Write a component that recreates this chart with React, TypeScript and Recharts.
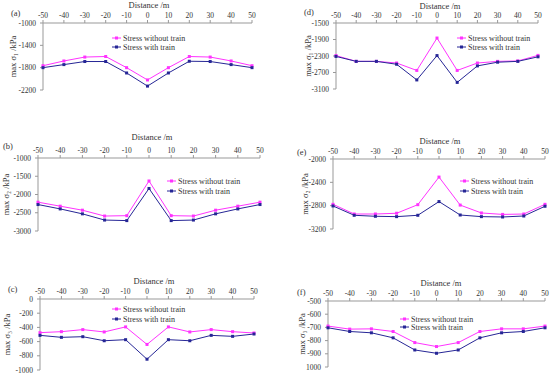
import { LineChart, Line, XAxis, YAxis, Label } from 'recharts';

// distance along the tunnel (m)
const distance = [-50, -40, -30, -20, -10, 0, 10, 20, 30, 40, 50];

// (a) max sigma1
const aWithout = [-1765, -1680, -1610, -1600, -1800, -2020, -1800, -1600, -1610, -1680, -1765];
const aWith = [-1800, -1745, -1690, -1690, -1895, -2130, -1895, -1685, -1690, -1745, -1800];
const aTicks = [-2200, -1800, -1400, -1000];

// (b) max sigma2
const bWithout = [-2210, -2320, -2430, -2590, -2580, -1630, -2580, -2590, -2430, -2320, -2210];
const bWith = [-2275, -2395, -2530, -2700, -2715, -1835, -2715, -2700, -2530, -2395, -2275];
const bTicks = [-3000, -2500, -2000, -1500, -1000];

// (c) max sigma3
const cWithout = [-474, -460, -431, -464, -393, -640, -393, -464, -431, -460, -479];
const cWith = [-512, -540, -531, -588, -573, -848, -573, -588, -512, -526, -493];
const cTicks = [-1000, -800, -600, -400, -200, 0];

// (d) max sigma1
const dWithout = [-2290, -2430, -2430, -2470, -2650, -1865, -2650, -2470, -2430, -2420, -2285];
const dWith = [-2310, -2430, -2430, -2500, -2880, -2290, -2940, -2540, -2450, -2430, -2320];
const dTicks = [-3100, -2700, -2300, -1900, -1500];

// (e) max sigma2
const eWithout = [-2777, -2943, -2943, -2930, -2783, -2310, -2790, -2925, -2950, -2943, -2777];
const eWith = [-2805, -2965, -2982, -2988, -2965, -2730, -2960, -2988, -2994, -2977, -2810];
const eTicks = [-3200, -2800, -2400, -2000];

// (f) max sigma3
const fWithout = [-690, -713, -711, -731, -815, -845, -815, -731, -711, -711, -690];
const fWith = [-703, -731, -741, -779, -871, -896, -871, -779, -741, -731, -703];
const fTicks = [-1000, -900, -800, -700, -600, -500];

const PINK = '#ff33ff';
const NAVY = '#262696';
const FONT = "'Liberation Serif', serif";
const TXT = '#333';

const panels = [
  { id: '(a)', without: aWithout, withT: aWith, ticks: aTicks, yLabel: 'max σ₁ /kPa', x0: 43, x1: 252, y0: 23, y1: 90, lab: [11, 13], dist: [149, 5], leg: [112, 38], gap: 9, yl: 13 },
  { id: '(d)', without: dWithout, withT: dWith, ticks: dTicks, yLabel: 'max σ₁ /kPa', x0: 336, x1: 538, y0: 23, y1: 89, lab: [304, 12], dist: [440, 6], leg: [457, 38], gap: 9, yl: 308 },
  { id: '(b)', without: bWithout, withT: bWith, ticks: bTicks, yLabel: 'max σ₂ /kPa', x0: 38, x1: 260, y0: 158, y1: 231, lab: [3, 146], dist: [152, 137], leg: [167, 181], gap: 10, yl: 6 },
  { id: '(e)', without: eWithout, withT: eWith, ticks: eTicks, yLabel: 'max σ₂ /kPa', x0: 333, x1: 545, y0: 159, y1: 229, lab: [297, 152], dist: [440, 141], leg: [460, 181], gap: 10, yl: 305 },
  { id: '(c)', without: cWithout, withT: cWith, ticks: cTicks, yLabel: 'max σ₃ /kPa', x0: 40, x1: 254, y0: 299, y1: 370, lab: [8, 289], dist: [154, 281], leg: [112, 309], gap: 10, yl: 7 },
  { id: '(f)', without: fWithout, withT: fWith, ticks: fTicks, yLabel: 'max σ₃ /kPa', x0: 328, x1: 545, y0: 301, y1: 367, lab: [297, 292], dist: [441, 283], leg: [400, 319], gap: 8, yl: 302 },
];

const SquareDot = (color: string) => (props: any) => {
  const { cx, cy, index } = props;
  if (cx == null || cy == null) return <g key={index} />;
  return <rect key={index} x={cx - 1.5} y={cy - 1.5} width={3} height={3} fill={color} />;
};

function LegendRow({ x, y, color, text }: { x: number; y: number; color: string; text: string }) {
  return (
    <div style={{ position: 'absolute', left: x, top: y - 6, height: 12, display: 'flex', alignItems: 'center' }}>
      <svg width={10} height={12} style={{ display: 'block' }}>
        <line x1={0} y1={6} x2={9} y2={6} stroke={color} strokeWidth={1} />
        <rect x={3} y={4.5} width={3} height={3} fill={color} />
      </svg>
      <span style={{ fontSize: 8, color: TXT, marginLeft: 1, whiteSpace: 'nowrap', fontFamily: FONT }}>{text}</span>
    </div>
  );
}

function Panel({ p }: { p: any }) {
  const data = distance.map((d, i) => ({ d, without: p.without[i], withT: p.withT[i] }));
  const axisW = 40;
  const axisH = 24;
  const left = p.x0 - axisW;
  const top = p.y0 - axisH;
  const w = p.x1 - p.x0 + axisW + 6;
  const h = p.y1 - p.y0 + axisH + 6;
  const lo = p.ticks[0];
  const hi = p.ticks[p.ticks.length - 1];
  const fmtY = (v: number) => (p.id === '(f)' && v === -1000 ? '1000' : String(v));
  return (
    <>
      <div style={{ position: 'absolute', left, top }}>
        <LineChart width={w} height={h} data={data} margin={{ top: 0, right: 6, bottom: 6, left: 0 }}>
          <XAxis
            dataKey="d"
            type="number"
            orientation="top"
            domain={[-50, 50]}
            ticks={distance}
            interval={0}
            height={axisH}
            stroke="#999"
            tickSize={3}
            tickMargin={2}
            tick={{ fontSize: 7.5, fill: TXT, fontFamily: FONT }}
          />
          <YAxis
            type="number"
            domain={[lo, hi]}
            ticks={p.ticks}
            interval={0}
            width={axisW}
            stroke="#999"
            tickSize={3}
            tickMargin={4}
            tickFormatter={fmtY}
            tick={{ fontSize: 7.5, fill: TXT, fontFamily: FONT }}
          >
            <Label
              value={p.yLabel}
              angle={-90}
              position="insideLeft"
              offset={p.yl - left}
              style={{ textAnchor: 'middle', fontSize: 8.5, fill: TXT, fontFamily: FONT }}
            />
          </YAxis>
          <Line type="linear" dataKey="without" stroke={PINK} strokeWidth={1} dot={SquareDot(PINK)} isAnimationActive={false} />
          <Line type="linear" dataKey="withT" stroke={NAVY} strokeWidth={1} dot={SquareDot(NAVY)} isAnimationActive={false} />
        </LineChart>
      </div>
      <div style={{ position: 'absolute', left: p.lab[0], top: p.lab[1] - 5, fontSize: 8.5, color: TXT, lineHeight: '10px', fontFamily: FONT }}>{p.id}</div>
      <div style={{ position: 'absolute', left: p.dist[0] - 40, width: 80, textAlign: 'center', top: p.dist[1] - 5, fontSize: 8.5, color: TXT, lineHeight: '10px', fontFamily: FONT }}>
        Distance /m
      </div>
      <LegendRow x={p.leg[0]} y={p.leg[1]} color={PINK} text="Stress without train" />
      <LegendRow x={p.leg[0]} y={p.leg[1] + p.gap} color={NAVY} text="Stress with train" />
    </>
  );
}

export default function App() {
  return (
    <div style={{ position: 'absolute', left: 0, top: 0, width: 550, height: 376, background: '#fff', fontFamily: FONT, overflow: 'hidden' }}>
      {panels.map((p) => (
        <Panel key={p.id} p={p} />
      ))}
    </div>
  );
}
